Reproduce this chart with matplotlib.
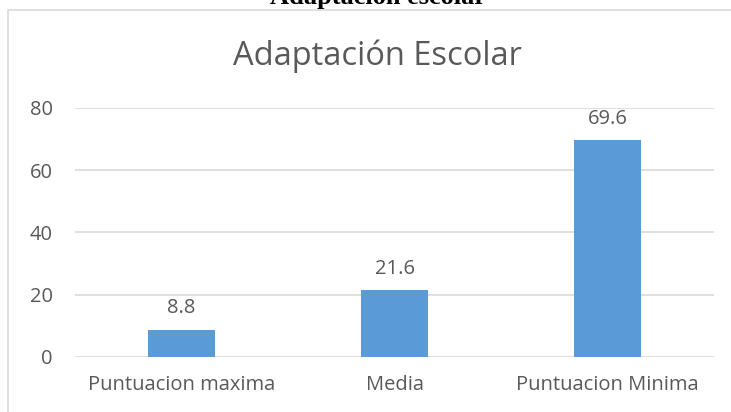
import matplotlib.pyplot as plt
from matplotlib.patches import Rectangle

# datos
categorias = ["Puntuacion maxima", "Media", "Puntuacion Minima"]
valores = [8.8, 21.6, 69.6]
ticks_y = [0, 20, 40, 60, 80]

gris = "#595959"
plt.rcParams['font.family'] = ['Open Sans', 'DejaVu Sans']

fig = plt.figure(figsize=(7.31, 4.12), dpi=100)

# marco del grafico (cortado a la derecha y abajo)
fig.patches.append(Rectangle((8 / 731, -0.1), 1.2, 1 - 10 / 412 + 0.1,
                             transform=fig.transFigure, fill=False,
                             edgecolor="#D9D9D9", linewidth=1.2))

# titulo del documento, cortado arriba como en la imagen
fig.text(0.517, 1 - 4 / 412, "Adaptación escolar", ha="center", va="baseline",
         family="Liberation Serif", weight="bold", fontsize=19, color="black")

ax = fig.add_axes([75 / 731, 0.1335, (714 - 75) / 731, 0.7379 - 0.1335])
x = range(len(categorias))
barras = ax.bar(x, valores, width=0.315, color="#5B9BD5", zorder=3)
for b, v in zip(barras, valores):
    ax.annotate(f"{v}", (b.get_x() + b.get_width() / 2, v), xytext=(0, 8),
                textcoords="offset points", ha="center", va="bottom",
                fontsize=14.5, color=gris)

ax.set_xlim(-0.5, 2.5)
ax.set_ylim(0, 80)
ax.set_yticks(ticks_y)
ax.set_xticks(list(x))
ax.set_xticklabels(categorias)
ax.tick_params(axis="both", length=0, labelsize=14.5, labelcolor=gris)
ax.tick_params(axis="y", pad=16)
ax.tick_params(axis="x", pad=13)
ax.grid(axis="y", color="#D9D9D9", linewidth=1.2, zorder=0)
for s in ax.spines.values():
    s.set_visible(False)

fig.text(377.5 / 731, 1 - 65 / 412, "Adaptación Escolar", ha="center",
         va="baseline", fontsize=23.5, color=gris)

plt.savefig("out.png", dpi=100)
